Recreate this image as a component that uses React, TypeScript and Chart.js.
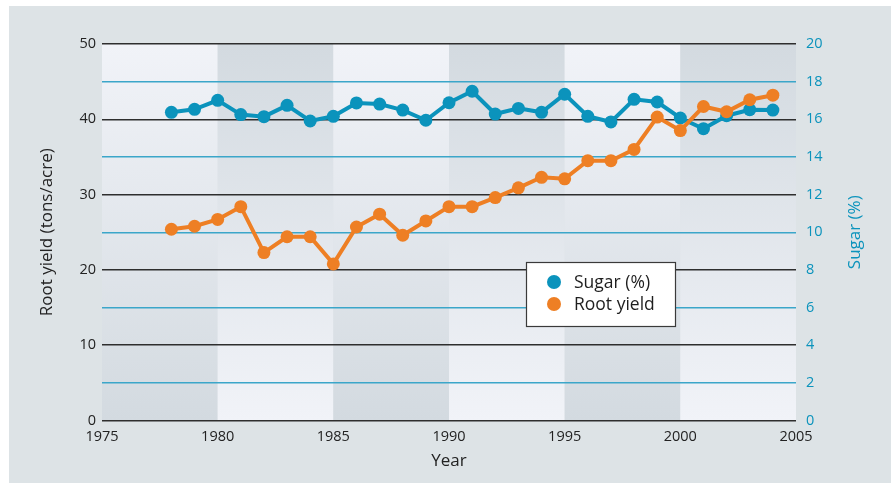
import React, { useEffect, useRef } from 'react';
import { Chart, registerables } from 'chart.js';
Chart.register(...registerables);

const years = [1978, 1979, 1980, 1981, 1982, 1983, 1984, 1985, 1986, 1987, 1988, 1989, 1990, 1991, 1992, 1993, 1994, 1995, 1996, 1997, 1998, 1999, 2000, 2001, 2002, 2003, 2004];
const sugar = [16.37, 16.53, 17.01, 16.25, 16.14, 16.74, 15.91, 16.16, 16.87, 16.81, 16.49, 15.95, 16.88, 17.49, 16.28, 16.58, 16.37, 17.33, 16.16, 15.86, 17.06, 16.92, 16.07, 15.5, 16.19, 16.51, 16.49];
const rootYield = [25.4, 25.8, 26.7, 28.4, 22.3, 24.4, 24.4, 20.8, 25.7, 27.4, 24.6, 26.5, 28.4, 28.4, 29.6, 30.9, 32.3, 32.1, 34.5, 34.5, 36.0, 40.3, 38.5, 41.7, 41.0, 42.6, 43.2];
const bandStarts = [1975, 1980, 1985, 1990, 1995, 2000];
const bandWidth = 5;
const seriesNames = ['Sugar (%)', 'Root yield'];
const rightTitle = 'Sugar (%)';

const TEAL = '#0b93bc';
const ORANGE = '#ee7f24';
const FONT = "'Open Sans', 'Noto Sans', sans-serif";

const bandsPlugin = {
  id: 'bands',
  beforeDraw(chart: any) {
    const { ctx, chartArea, scales } = chart;
    const x = scales.x;
    ctx.save();
    bandStarts.forEach((s, i) => {
      const x0 = x.getPixelForValue(s);
      const x1 = x.getPixelForValue(s + bandWidth);
      const g = ctx.createLinearGradient(0, chartArea.top, 0, chartArea.bottom);
      const light = '#f1f3f8';
      const dark = '#d3dae0';
      if (i % 2 === 0) {
        g.addColorStop(0, light);
        g.addColorStop(1, dark);
      } else {
        g.addColorStop(0, dark);
        g.addColorStop(1, light);
      }
      ctx.fillStyle = g;
      ctx.fillRect(x0, chartArea.top, x1 - x0, chartArea.bottom - chartArea.top);
    });
    ctx.restore();
  },
};

const legendPlugin = {
  id: 'boxLegend',
  afterDraw(chart: any) {
    const { ctx, chartArea } = chart;
    const colors = [TEAL, ORANGE];
    ctx.save();
    ctx.fillStyle = '#ffffff';
    ctx.fillRect(517, 256, 149, 64);
    ctx.strokeStyle = '#3a3a3a';
    ctx.lineWidth = 1.2;
    ctx.strokeRect(517.5, 256.5, 149, 64);
    ctx.font = `17.5px ${FONT}`;
    ctx.textBaseline = 'middle';
    ctx.textAlign = 'left';
    seriesNames.forEach((name, i) => {
      const cy = 276 + i * 22;
      ctx.fillStyle = colors[i];
      ctx.beginPath();
      ctx.arc(545, cy, 7, 0, Math.PI * 2);
      ctx.fill();
      ctx.fillStyle = '#1e1e1e';
      ctx.fillText(name, 565, cy + 1);
    });
    // right axis title, reading bottom to top
    ctx.translate(846, (chartArea.top + chartArea.bottom) / 2);
    ctx.rotate(-Math.PI / 2);
    ctx.fillStyle = TEAL;
    ctx.font = `17px ${FONT}`;
    ctx.textAlign = 'center';
    ctx.textBaseline = 'middle';
    ctx.fillText(rightTitle, 0, 0);
    ctx.restore();
  },
};

export default function App() {
  const ref = useRef<HTMLCanvasElement>(null);
  useEffect(() => {
    if (!ref.current) return;
    const chart = new Chart(ref.current, {
      type: 'line',
      data: {
        datasets: [
          {
            label: seriesNames[0],
            data: years.map((yr, i) => ({ x: yr, y: sugar[i] })),
            yAxisID: 'y2',
            borderColor: TEAL,
            backgroundColor: TEAL,
            borderWidth: 4,
            pointRadius: 6.5,
            pointBorderWidth: 0,
            pointBackgroundColor: TEAL,
            tension: 0,
            order: 2,
          },
          {
            label: seriesNames[1],
            data: years.map((yr, i) => ({ x: yr, y: rootYield[i] })),
            yAxisID: 'y',
            borderColor: ORANGE,
            backgroundColor: ORANGE,
            borderWidth: 4,
            pointRadius: 6.5,
            pointBorderWidth: 0,
            pointBackgroundColor: ORANGE,
            tension: 0,
            order: 1,
          },
        ],
      },
      options: {
        responsive: false,
        animation: false,
        layout: { padding: { top: 38, left: 0, right: 0, bottom: 0 } },
        plugins: { legend: { display: false }, tooltip: { enabled: false } },
        scales: {
          x: {
            type: 'linear',
            min: 1975,
            max: 2005,
            grid: { display: false, drawTicks: false },
            border: { display: false },
            ticks: { stepSize: 5, padding: 8, color: '#222222', font: { family: FONT, size: 14.5 }, callback: (v: any) => String(v) },
            title: { display: true, text: 'Year', color: '#222222', font: { family: FONT, size: 17 }, padding: { top: 0, bottom: 12 } },
            afterFit: (s: any) => { s.height = 62.5; },
          },
          y: {
            position: 'left',
            min: 0,
            max: 50,
            grid: { color: '#2e2e2e', lineWidth: 1.5, drawTicks: false },
            border: { display: false },
            ticks: { stepSize: 10, padding: 6, color: '#222222', font: { family: FONT, size: 14.5 } },
            title: { display: true, text: 'Root yield (tons/acre)', color: '#222222', font: { family: FONT, size: 17 }, padding: { top: 28, bottom: 0 } },
            afterFit: (s: any) => { s.width = 93; },
          },
          y2: {
            position: 'right',
            min: 0,
            max: 20,
            grid: {
              color: (c: any) => (c.tick && c.tick.value % 4 === 2 ? '#3ba6c9' : 'rgba(0,0,0,0)'),
              lineWidth: 1.5,
              drawTicks: false,
            },
            border: { display: false },
            ticks: { stepSize: 2, padding: 10, color: TEAL, font: { family: FONT, size: 14.5 } },
            title: { display: false },
            afterFit: (s: any) => { s.width = 95; },
          },
        },
      },
      plugins: [bandsPlugin, legendPlugin],
    } as any);
    return () => chart.destroy();
  }, []);
  return (
    <div style={{ position: 'absolute', left: 9, top: 6, width: 882, height: 477, background: '#dde3e6' }}>
      <canvas ref={ref} width={882} height={477} style={{ display: 'block' }} />
    </div>
  );
}
